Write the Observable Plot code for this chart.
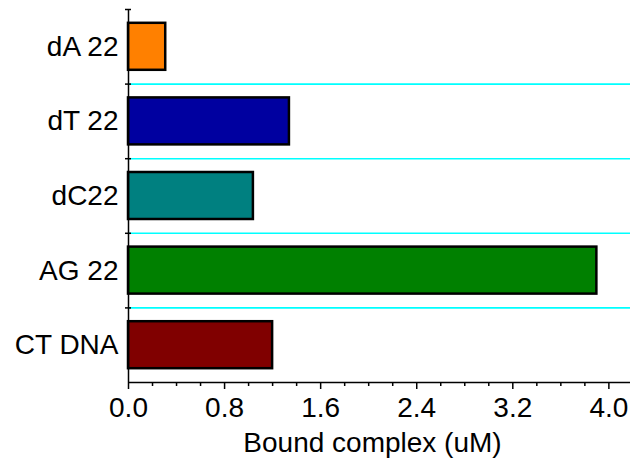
<!DOCTYPE html>
<html>
<head>
<meta charset="utf-8">
<script src="https://cdn.jsdelivr.net/npm/d3@7"></script>
<script src="https://cdn.jsdelivr.net/npm/@observablehq/plot@0.6"></script>
<style>
  html, body { margin: 0; padding: 0; background: white; }
</style>
</head>
<body>
<div id="chart"></div>
<script>
const categories = ["dA 22", "dT 22", "dC22", "AG 22", "CT DNA"];
const values = [0.31, 1.34, 1.04, 3.90, 1.20];
const colors = ["#FF8000", "#0000A0", "#008080", "#008000", "#800000"];
const majorTicks = [0.0, 0.8, 1.6, 2.4, 3.2, 4.0];
const minorTicks = [0.2, 0.4, 0.6, 1.0, 1.2, 1.4, 1.8, 2.0, 2.2, 2.6, 2.8, 3.0, 3.4, 3.6, 3.8, 4.2];
const xLabel = "Bound complex (uM)";

const data = categories.map((name, i) => ({name, i, value: values[i], color: colors[i]}));
const n = categories.length;

const chart = Plot.plot({
  width: 630,
  height: 459,
  marginTop: 9,
  marginBottom: 77,
  marginLeft: 128,
  marginRight: 0,
  style: {fontFamily: "'Liberation Sans', Arial, sans-serif", fontSize: "28px", background: "white", color: "black"},
  x: {domain: [0, 4.18]},
  y: {domain: [0, n], reverse: true},
  color: {type: "identity"},
  marks: [
    Plot.ruleY(d3.range(1, n), {stroke: "#00FFFF", strokeWidth: 1.6}),
    Plot.rect(data, {x1: 0, x2: "value", y1: "i", y2: d => d.i + 1, fill: "color",
      insetTop: 13.8, insetBottom: 13.8, stroke: "black", strokeWidth: 2.5}),
    Plot.ruleX([0], {y1: 0, y2: n, stroke: "black", strokeWidth: 1.5}),
    Plot.ruleY([n], {stroke: "black", strokeWidth: 1.5}),
    Plot.axisY({ticks: d3.range(0, n), tickSize: 6, dx: 3, tickFormat: () => "", label: null, strokeWidth: 1.5}),
    Plot.text(data, {x: 0, y: d => d.i + 0.5, text: "name", textAnchor: "end", dx: -10, lineAnchor: "middle", fill: "black"}),
    Plot.axisX({ticks: majorTicks, tickSize: 7, tickPadding: 8, tickFormat: d3.format(".1f"), label: null, strokeWidth: 1.5}),
    Plot.axisX({ticks: minorTicks, tickSize: 4, tickFormat: () => "", label: null, strokeWidth: 1.5}),
    Plot.text([xLabel], {frameAnchor: "bottom", dy: 61, dx: -7, lineAnchor: "middle", fill: "black"})
  ]
});
document.getElementById("chart").appendChild(chart);
</script>
</body>
</html>
